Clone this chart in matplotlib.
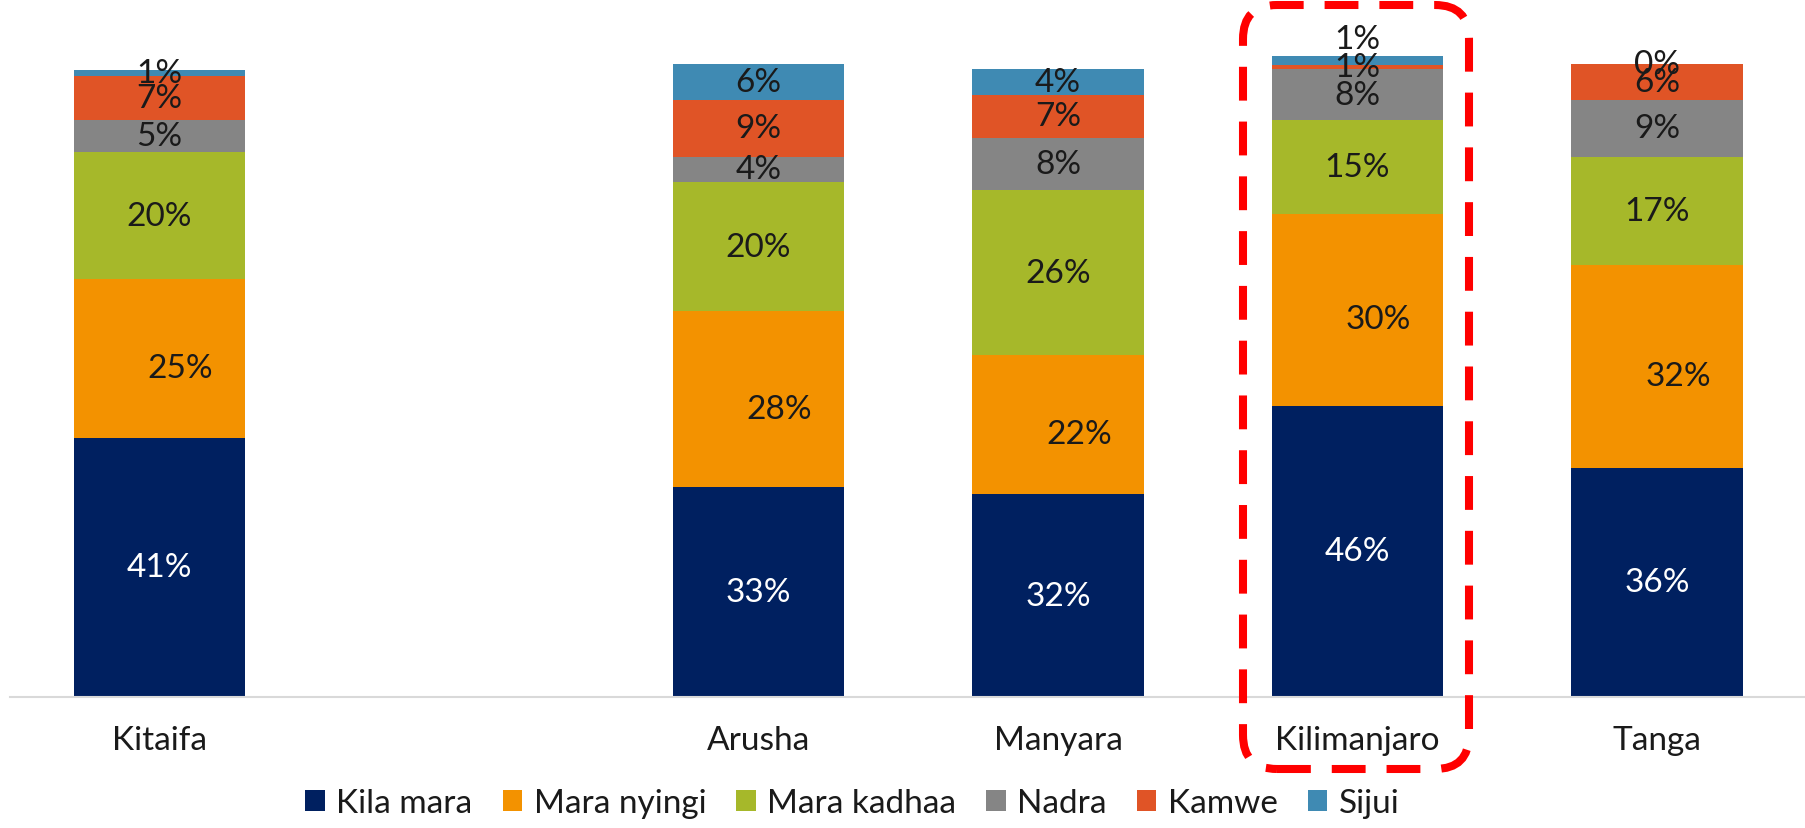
import matplotlib
matplotlib.use("Agg")
import matplotlib.pyplot as plt
from matplotlib.patches import FancyBboxPatch, Patch

plt.rcParams['font.family'] = ['Lato', 'DejaVu Sans']

categories = ["Kitaifa", "", "Arusha", "Manyara", "Kilimanjaro", "Tanga"]
series_names = ["Kila mara", "Mara nyingi", "Mara kadhaa", "Nadra", "Kamwe", "Sijui"]

# share of responses per region (None = empty slot)
kila_mara   = [40.9, None, 33.1, 32.0, 46.0, 36.2]
mara_nyingi = [25.1, None, 27.8, 22.0, 30.2, 32.0]
mara_kadhaa = [20.0, None, 20.4, 26.0, 14.9, 17.1]
nadra       = [5.1,  None, 4.0,  8.2,  8.0,  8.9]
kamwe       = [6.9,  None, 8.9,  6.9,  0.7,  5.8]
sijui       = [1.0,  None, 5.8,  4.0,  1.4,  0.0]

labels = [
    ["41%", "", "33%", "32%", "46%", "36%"],
    ["25%", "", "28%", "22%", "30%", "32%"],
    ["20%", "", "20%", "26%", "15%", "17%"],
    ["5%",  "", "4%",  "8%",  "8%",  "9%"],
    ["7%",  "", "9%",  "7%",  "1%",  "6%"],
    ["1%",  "", "6%",  "4%",  "1%",  "0%"],
]

colors = ["#002060", "#F39200", "#A6B82A", "#858585", "#E05426", "#3F8AB3"]
text_colors = ["white", "#1a1a1a", "#1a1a1a", "#1a1a1a", "#1a1a1a", "#1a1a1a"]

all_series = [kila_mara, mara_nyingi, mara_kadhaa, nadra, kamwe, sijui]

fig = plt.figure(figsize=(18.06, 8.29), dpi=100)
ax = fig.add_axes([9.75 / 1806, 131 / 829, 1797 / 1806, 108 * 6.335 / 829])

x = list(range(len(categories)))
bottoms = [0.0] * len(categories)
for s, (vals, col) in enumerate(zip(all_series, colors)):
    for i, v in enumerate(vals):
        if v is None:
            continue
        ax.bar(i, v, bottom=bottoms[i], width=0.571, color=col, linewidth=0)
        lx = i
        ly = bottoms[i] + v / 2
        if s == 1:
            # orange labels sit a bit right and low in the original
            lx += 0.07
            ly -= 1.5
        if categories[i] == "Kilimanjaro" and s == 5:
            ly += 3.3  # label pushed above the bar
        ax.text(lx, ly, labels[s][i], ha="center", va="center",
                fontsize=24, color=text_colors[s])
        bottoms[i] += v

ax.set_xlim(-0.5, 5.5)
ax.set_ylim(0, 108)
ax.set_xticks(x)
ax.set_xticklabels(categories, fontsize=24, color="#1a1a1a")
ax.tick_params(axis="x", length=0, pad=20)
ax.set_yticks([])
for side in ["top", "right", "left"]:
    ax.spines[side].set_visible(False)
ax.spines["bottom"].set_color("#D9D9D9")
ax.spines["bottom"].set_linewidth(1.5)

handles = [Patch(facecolor=c, edgecolor="none") for c in colors]
fig.legend(handles, series_names, loc="center", bbox_to_anchor=(0.472, 0.030),
           ncol=6, frameon=False, fontsize=24, handlelength=0.58, handleheight=0.58,
           handletextpad=0.35, columnspacing=0.9, labelcolor="#1a1a1a")

# dashed highlight around Kilimanjaro
over = fig.add_axes([0, 0, 1, 1], facecolor="none")
over.set_xlim(0, 1806)
over.set_ylim(0, 829)
over.axis("off")
box = FancyBboxPatch((1243, 59), 226, 764, boxstyle="round,pad=0,rounding_size=34",
                     fill=False, edgecolor="#FF0000", linewidth=5.8,
                     linestyle=(0, (4.2, 2.6)))
over.add_patch(box)

fig.savefig("out.png", dpi=100)
